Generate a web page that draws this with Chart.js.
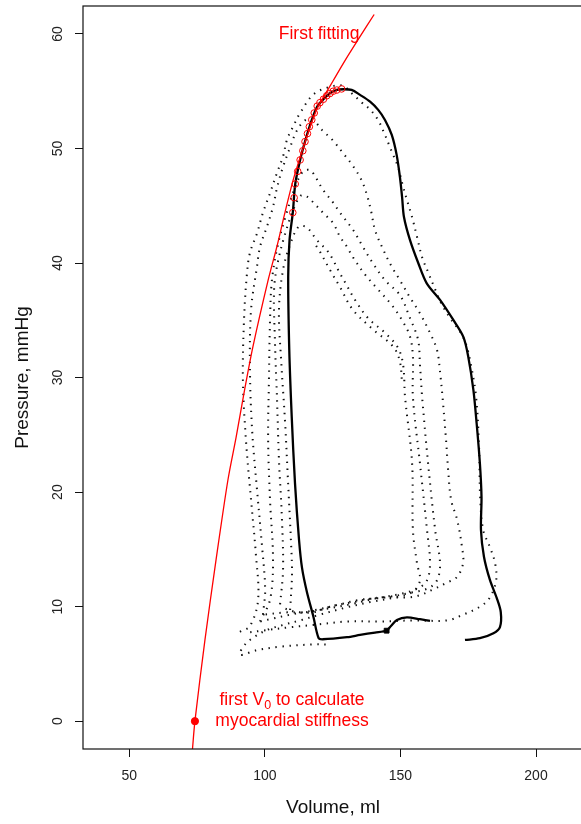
<!DOCTYPE html>
<html>
<head>
<meta charset="utf-8">
<script src="https://cdn.jsdelivr.net/npm/chart.js@4.4.0/dist/chart.umd.min.js"></script>
<style>
html,body{margin:0;padding:0;background:#fff;overflow:hidden;}
#wrap{position:relative;width:600px;height:824px;}
</style>
</head>
<body>
<div id="wrap"><canvas id="chart"></canvas></div>
<script>
// axis ticks
const xTicks = [50, 100, 150, 200];
const yTicks = [0, 10, 20, 30, 40, 50, 60];

// first beat (solid black loop)
const loopV = [160.9, 157.2, 152.4, 148.7, 146.5, 144.9, 140.6, 135.1, 130.3, 121.4, 119.8, 117.9, 115.5, 113.7, 112.6, 111.1, 109.9, 109.0, 108.6, 109.1, 110.3, 111.2, 113.0, 114.8, 117.3, 119.3, 121.6, 124.0, 126.5, 128.9, 132.0, 135.1, 138.8, 141.8, 144.3, 146.8, 148.6, 149.8, 150.6, 151.3, 153.5, 156.6, 159.7, 164.6, 169.5, 173.2, 175.0, 176.9, 178.1, 179.3, 179.9, 179.7, 180.8, 183.0, 185.5, 187.0, 186.7, 184.3, 179.3, 173.8];
const loopP = [8.75, 8.9, 9.07, 8.84, 8.31, 7.92, 7.74, 7.53, 7.33, 7.15, 7.26, 9.12, 11.28, 13.38, 15.82, 20.8, 26.59, 32.41, 38.78, 42.02, 44.4, 46.9, 49.0, 50.6, 52.49, 53.65, 54.3, 54.82, 55.11, 55.17, 55.11, 54.68, 54.09, 53.37, 52.49, 51.18, 49.44, 47.52, 45.77, 44.02, 42.02, 39.98, 38.23, 36.78, 35.03, 33.55, 31.83, 28.92, 26.01, 22.52, 19.58, 16.69, 14.36, 12.33, 10.76, 9.53, 8.22, 7.67, 7.24, 7.09];

// following beats (dotted loops)
const loopAV = [90.8, 94.5, 97.5, 96.7, 94.9, 93.0, 91.9, 92.3, 93.4, 94.5, 97.1, 99.3, 101.9, 104.5, 106.7, 108.2, 110.4, 113.0, 117.8, 122.9, 128.5, 132.1, 135.8, 138.8, 141.7, 143.9, 146.5, 149.1, 150.6, 152.4, 154.3, 156.1, 158.0, 160.2, 162.8, 165.0, 168.3, 172.0, 174.2, 176.0, 177.9, 179.0, 179.4, 180.5, 183.0, 184.9, 185.3, 183.0, 179.4, 173.1, 167.2, 154.6, 142.5, 130.3, 117.8, 109.3, 98.9, 92.7];
const loopAP = [7.8, 8.3, 10.6, 14.5, 19.3, 24.6, 29.8, 35.0, 39.1, 40.9, 42.6, 44.4, 46.1, 47.9, 49.3, 50.8, 51.9, 53.1, 54.7, 55.3, 55.5, 54.8, 54.0, 53.4, 52.5, 51.4, 49.9, 48.4, 47.0, 45.5, 44.0, 42.3, 40.5, 39.2, 37.7, 36.5, 35.2, 34.0, 32.9, 31.1, 28.3, 23.9, 19.6, 16.7, 15.2, 13.8, 12.3, 10.8, 10.0, 9.3, 8.8, 8.8, 8.7, 8.7, 8.4, 8.2, 7.9, 7.7];

const loopBV = [99.3, 100.1, 98.9, 97.1, 95.3, 94.5, 94.9, 97.1, 98.2, 100.8, 103.0, 104.5, 106.7, 109.3, 111.9, 115.2, 118.5, 121.1, 125.1, 128.8, 132.1, 135.5, 137.7, 139.2, 140.6, 143.2, 146.5, 149.8, 153.5, 157.2, 160.9, 163.5, 164.6, 165.7, 166.8, 167.6, 168.7, 170.9, 172.7, 173.1, 170.9, 167.2, 162.0, 157.2, 152.4, 142.5, 132.5, 124.0, 117.8, 108.2, 99.3];
const loopBP = [9.3, 11.5, 15.4, 20.2, 25.4, 30.7, 35.9, 39.7, 41.4, 43.2, 44.9, 46.6, 48.4, 50.1, 51.6, 52.5, 52.3, 51.6, 50.7, 49.6, 48.6, 47.3, 45.9, 44.5, 42.9, 41.4, 39.8, 38.5, 37.0, 35.6, 33.9, 32.4, 30.5, 27.8, 24.6, 21.9, 19.3, 17.6, 15.2, 13.8, 12.6, 12.1, 11.5, 11.0, 10.8, 10.8, 10.4, 10.0, 9.5, 9.5, 9.3];

const loopCV = [98.2, 101.9, 103.0, 101.9, 101.2, 101.5, 101.9, 102.6, 104.8, 107.8, 111.1, 114.1, 116.7, 119.2, 121.4, 125.1, 127.7, 132.5, 136.2, 139.5, 144.3, 149.8, 153.5, 156.5, 157.2, 158.0, 160.2, 162.8, 164.6, 163.5, 160.2, 153.5, 144.3, 135.1, 127.7, 118.5, 109.3, 101.9, 98.2];
const loopCP = [8.7, 10.6, 14.1, 19.3, 24.6, 29.8, 35.0, 38.5, 41.6, 44.2, 46.6, 48.0, 48.1, 47.3, 46.4, 45.3, 44.4, 42.9, 41.4, 40.1, 38.5, 37.2, 35.2, 33.3, 31.1, 28.3, 22.5, 16.7, 13.8, 12.3, 11.6, 11.2, 10.8, 10.6, 10.2, 9.7, 9.3, 8.9, 8.7];

const loopDV = [105.6, 106.7, 106.3, 105.2, 104.5, 103.7, 103.4, 104.8, 107.4, 110.4, 113.3, 115.5, 117.8, 121.4, 125.1, 127.7, 130.3, 132.5, 136.9, 141.7, 146.9, 150.6, 153.5, 154.6, 154.6, 157.2, 159.8, 160.9, 159.8, 156.5, 149.8, 140.6, 131.4, 122.2, 113.0, 106.3];
const loopDP = [10.2, 13.2, 17.6, 22.8, 28.0, 33.3, 37.7, 40.1, 42.5, 44.6, 45.9, 45.8, 45.3, 44.4, 43.5, 42.3, 41.4, 40.5, 39.0, 37.7, 36.3, 35.0, 33.6, 31.8, 28.3, 22.5, 16.7, 13.8, 12.3, 11.6, 11.1, 10.7, 10.2, 9.8, 9.5, 9.9];

const loopEV = [109.3, 110.0, 109.6, 108.5, 107.4, 106.0, 105.2, 106.7, 109.6, 112.6, 115.5, 119.2, 122.9, 125.1, 127.0, 129.6, 133.2, 138.0, 144.3, 149.1, 151.0, 151.7, 154.3, 154.6, 156.1, 157.2, 154.6, 148.0, 138.8, 129.6, 120.3, 113.0, 106.7, 101.2, 96.4, 92.7, 90.8, 97.1, 105.6, 117.8, 122.9];
const loopEP = [9.7, 12.8, 15.8, 21.1, 26.3, 31.5, 35.9, 39.4, 41.8, 43.2, 43.1, 42.0, 41.1, 40.3, 39.4, 38.3, 36.8, 35.2, 33.9, 32.6, 31.1, 28.3, 22.5, 16.7, 13.8, 12.3, 11.3, 10.8, 10.4, 9.9, 9.3, 8.8, 8.4, 8.0, 7.4, 6.7, 5.8, 6.2, 6.5, 6.7, 6.7];

const loopFV = [118.9, 120.3, 124.0, 127.7, 132.5, 139.9, 147.3, 149.8, 150.6];
const loopFP = [41.5, 41.0, 39.4, 37.9, 35.9, 34.2, 32.7, 31.4, 29.4];

// points used for the first fitting (red circles)
const fitPtsV = [110.3, 110.8, 111.2, 112.1, 113.0, 114.0, 114.8, 115.7, 116.4, 117.3, 118.2, 119.3, 120.3, 121.6, 122.8, 124.0, 125.2, 126.5, 128.3];
const fitPtsP = [44.4, 45.7, 46.9, 48.0, 49.0, 49.8, 50.6, 51.3, 51.9, 52.5, 53.1, 53.7, 54.0, 54.3, 54.6, 54.8, 55.0, 55.1, 55.2];

// first fitting curve (red line)
const fitV = [73.3, 74.2, 77.9, 82.0, 86.4, 89.4, 92.5, 95.6, 101.2, 104.4, 107.4, 110.5, 114.2, 119.1, 124.4, 129.6, 134.9, 140.3];
const fitP = [-2.43, 0, 7.1, 14.1, 21.1, 24.8, 28.9, 32.7, 38.5, 41.4, 44.4, 47.3, 50.1, 53.4, 55.6, 57.7, 59.7, 61.7];

// first V0 and the small black marker on the solid loop
const v0 = [{ x: 74.2, y: 0 }];
const marker = [{ x: 144.9, y: 7.9 }];

// labels
const fitLabel = { text: "First fitting", v: 120, p: 60 };
const v0Label = { v: 110, p: 0 };

const FONT = "'Liberation Sans', Arial, Helvetica, sans-serif";
const RED = "#ff0000";
const INK = "#111";

function pts(vs, ps){ return vs.map((v,i)=>({ x:v, y:ps[i] })); }

function dotted(vs, ps){
  return { data: pts(vs, ps), showLine: true, borderColor: "#111", borderWidth: 2,
           borderDash: [1.4, 5.6], pointRadius: 0, tension: 0.35, fill: false };
}

function noPad(s){
  s.paddingTop = 0; s.paddingBottom = 0; s.paddingLeft = 0; s.paddingRight = 0;
}

const frame = {
  id: "frame",
  afterDatasetsDraw(chart){
    const { ctx, chartArea: a } = chart;
    ctx.save();
    ctx.strokeStyle = INK;
    ctx.lineWidth = 1.2;
    ctx.strokeRect(a.left, a.top, a.right - a.left, a.bottom - a.top);
    ctx.restore();
  }
};

const notes = {
  id: "notes",
  afterDatasetsDraw(chart){
    const { ctx } = chart;
    const x = chart.scales.x, y = chart.scales.y;
    ctx.save();
    ctx.fillStyle = RED;
    ctx.textBaseline = "middle";
    ctx.font = "17.5px " + FONT;
    ctx.textAlign = "center";
    ctx.fillText(fitLabel.text, x.getPixelForValue(fitLabel.v), y.getPixelForValue(fitLabel.p));

    const cx = x.getPixelForValue(v0Label.v);
    const cy = y.getPixelForValue(v0Label.p);
    ctx.fillText("myocardial stiffness", cx, cy);

    // first line with subscript 0
    const big = "17.5px " + FONT, small = "12.5px " + FONT;
    ctx.font = big;
    const w1 = ctx.measureText("first V").width;
    const w3 = ctx.measureText(" to calculate").width;
    ctx.font = small;
    const w2 = ctx.measureText("0").width;
    let sx = cx - (w1 + w2 + w3) / 2;
    const ly = cy - 21;
    ctx.textAlign = "left";
    ctx.font = big;
    ctx.fillText("first V", sx, ly);
    ctx.font = small;
    ctx.fillText("0", sx + w1, ly + 5);
    ctx.font = big;
    ctx.fillText(" to calculate", sx + w1 + w2, ly);
    ctx.restore();
  }
};

new Chart(document.getElementById("chart"), {
  type: "scatter",
  data: {
    datasets: [
      { data: pts(fitPtsV, fitPtsP), pointRadius: 3.3, pointBorderColor: RED, pointBackgroundColor: "rgba(0,0,0,0)", pointBorderWidth: 1, showLine: false },
      { data: v0, pointRadius: 3.6, pointBackgroundColor: RED, pointBorderColor: RED, showLine: false },
      { data: pts(fitV, fitP), showLine: true, borderColor: RED, borderWidth: 1.3, pointRadius: 0, tension: 0.3 },
      { data: marker, pointStyle: "rect", pointRadius: 3.4, pointBackgroundColor: "#000", pointBorderColor: "#000", showLine: false },
      { data: pts(loopV, loopP), showLine: true, borderColor: "#000", borderWidth: 2.3, pointRadius: 0, tension: 0.3 },
      dotted(loopAV, loopAP),
      dotted(loopBV, loopBP),
      dotted(loopCV, loopCP),
      dotted(loopDV, loopDP),
      dotted(loopEV, loopEP),
      dotted(loopFV, loopFP)
    ]
  },
  options: {
    responsive: true,
    maintainAspectRatio: false,
    animation: false,
    events: [],
    layout: { padding: { top: 6, right: 17, left: 0, bottom: 0 } },
    plugins: { legend: { display: false }, tooltip: { enabled: false } },
    scales: {
      x: {
        type: "linear", min: 32.92, max: 217.33,
        afterBuildTicks: s => { s.ticks = xTicks.map(v => ({ value: v })); },
        afterFit: s => { s.height = 75; noPad(s); },
        grid: { drawOnChartArea: false, drawTicks: true, tickLength: 8, color: INK, lineWidth: 1 },
        border: { display: false },
        ticks: { font: { family: FONT, size: 14 }, color: "#222", padding: 11, maxRotation: 0, autoSkip: false },
        title: { display: true, text: "Volume, ml", font: { family: FONT, size: 19 }, color: INK, padding: { top: 0, bottom: 4.6 } }
      },
      y: {
        type: "linear", min: -2.43, max: 62.44,
        afterBuildTicks: s => { s.ticks = yTicks.map(v => ({ value: v })); },
        afterFit: s => { s.width = 83; noPad(s); },
        grid: { drawOnChartArea: false, drawTicks: true, tickLength: 8, color: INK, lineWidth: 1 },
        border: { display: false },
        ticks: { font: { family: FONT, size: 14 }, color: "#222", padding: 9.5, minRotation: 90, maxRotation: 90, crossAlign: "center", autoSkip: false },
        title: { display: true, text: "Pressure, mmHg", font: { family: FONT, size: 19 }, color: INK, padding: { top: 11.5, bottom: 0 } }
      }
    }
  },
  plugins: [frame, notes]
});
</script>
</body>
</html>
